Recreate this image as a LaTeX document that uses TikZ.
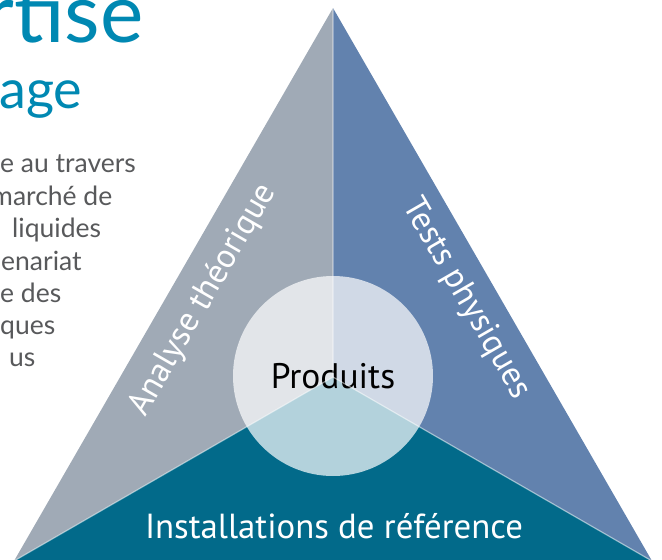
\documentclass[tikz,border=0pt]{standalone}
\usepackage{fontspec}
\setmainfont{PT Sans}
\newfontfamily\headfont{Lato}

\definecolor{theory}{HTML}{A0AAB6}
\definecolor{physical}{HTML}{6282AE}
\definecolor{reference}{HTML}{026A8A}
\definecolor{headline}{HTML}{0088B2}
\definecolor{bodygrey}{HTML}{58595B}

\begin{document}
\begin{tikzpicture}[x=1pt,y=-1pt]

	\tikzstyle sector edges=[white, opacity=.5, line width=1.2pt];
	\tikzstyle side label=[white, inner sep=0pt, font=\fontsize{34}{34}\selectfont];
	\tikzstyle headline text=[headline, anchor=base west, inner sep=0pt];
	\tikzstyle body text=[bodygrey, anchor=base west, inner sep=0pt, font=\headfont\fontsize{26.5}{26.5}\selectfont];

	\useasboundingbox (0,0) rectangle (662,560);

	% the big triangle and its centre
	\coordinate (apex) at (333,8);
	\coordinate (left) at (14,561);
	\coordinate (right) at (652,561);
	\coordinate (ctr) at (333,377);

	\fill[theory] (apex) -- (ctr) -- (left) -- cycle;
	\fill[physical] (apex) -- (right) -- (ctr) -- cycle;
	\fill[reference] (left) -- (ctr) -- (right) -- cycle;

	\node[circle, minimum size=200pt, inner sep=0pt, fill=white, fill opacity=.7, text opacity=1,
		font=\fontsize{35.5}{35.5}\selectfont] (prod) at (333,376) {Produits};

	\draw[sector edges] (apex) -- (ctr) -- (left);
	\draw[sector edges] (ctr) -- (right);

	\node[side label, rotate=60] (theo) at (203,300) {Analyse théorique};
	\node[side label, rotate=-60] (tests) at (466,299) {Tests physiques};
	\node[white, inner sep=0pt, font=\fontsize{34.8}{34.8}\selectfont] (install) at (334,526) {Installations de référence};

	% heading and text beside the triangle
	\node[headline text, font=\headfont\fontsize{82}{82}\selectfont] (head1) at (-16,42) {rtise};
	\node[headline text, font=\headfont\fontsize{54}{54}\selectfont] (head2) at (-1,108) {age};

	\foreach \x/\y/\txt in {0/172/e au travers, -9/205/marché de, 12/237/liquides, 1/270/enariat,
		0/302/e des, 0/334/ques, 9/366/us}
		\node[body text] (body\y) at (\x,\y) {\txt};

\end{tikzpicture}
\end{document}
